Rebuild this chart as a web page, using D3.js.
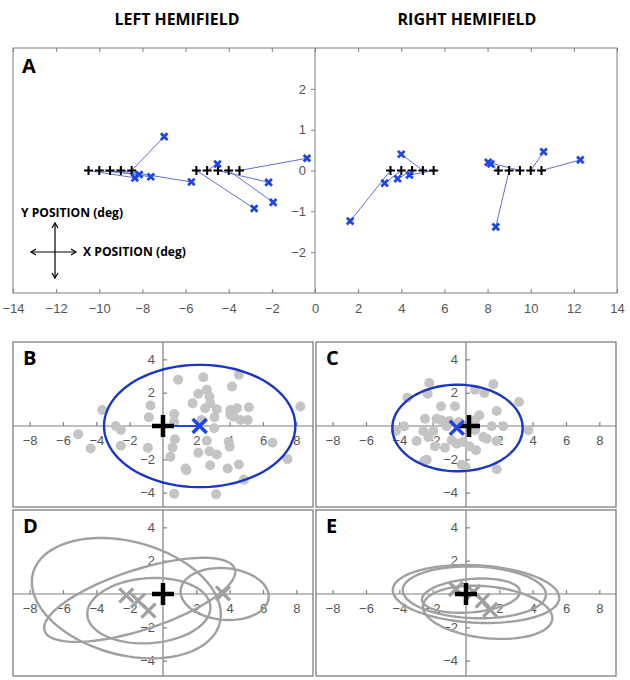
<!DOCTYPE html>
<html>
<head>
<meta charset="utf-8">
<script src="https://cdn.jsdelivr.net/npm/d3@7"></script>
<style>
  body { margin: 0; background: #fff; }
  text { font-family: "Liberation Sans", Arial, sans-serif; }
  .bold { font-family: "Open Sans", sans-serif; font-weight: 700; }
</style>
</head>
<body>
<div id="chart"></div>
<script>
// panel A: targets on the horizontal meridian and the matching responses
const targetsA = [-10.5, -10, -9.5, -9, -8.5, -5.5, -5, -4.5, -4, -3.5,
  3.5, 4, 4.5, 5, 5.5, 8.5, 9, 9.5, 10, 10.5];
const responseAX = [-8.35, -8.15, -7.61, -5.73, -6.99, -2.82, -4.52, -2.15, -1.94, -0.37,
  1.63, 3.23, 3.83, 4.0, 4.38, 8.15, 8.38, 8.03, 10.6, 12.3];
const responseAY = [-0.18, -0.10, -0.155, -0.28, 0.83, -0.93, 0.16, -0.29, -0.78, 0.30,
  -1.24, -0.31, -0.20, 0.40, -0.11, 0.16, -1.38, 0.20, 0.46, 0.26];
const ticksAX = d3.range(-14, 15, 2);
const ticksAY = [-2, -1, 0, 1, 2];

// panel B: single-trial endpoints, left hemifield
const dotsBX = [0.91, 2.42, 4.55, 4.14, 2.12, 2.63, 2.79, 1.78, 2.83, 2.53, 3.23, 3.09, 4.04, 4.44,
  5.15, 4.24, 4.65, 5.09, 4.04, 8.24, -3.64, -0.75, -0.85, 0.67, 0.67, -2.83, -2.53, -5.09,
  -4.34, -2.53, -0.91, 0.57, 0.71, 0.44, 2.12, 2.63, 3.07, 2.79, 3.23, 2.83, 4.0, 3.94,
  3.88, 4.55, 1.35, 1.41, 4.85, 0.67, 3.19, 6.57, 7.47, 2.32];
const dotsBY = [2.77, 2.93, 3.08, 2.37, 1.93, 2.17, 1.77, 1.37, 1.37, 1.07, 1.0, 0.52, 0.96, 1.07,
  1.13, 0.56, 0.36, 0.36, 0.66, 1.17, 0.96, 1.23, 0.52, 0.72, 0.26, 0, -0.24, -0.5,
  -1.35, -1.19, -1.31, -1.29, -0.80, -1.85, -1.61, -0.88, -0.14, -1.51, -1.71, -2.35, -1.25, -0.94,
  -2.55, -2.31, -2.55, -2.65, -3.22, -4.06, -4.1, -1.0, -1.99, 0.36];

// panel C: single-trial endpoints, right hemifield
const dotsCX = [-2.2, -3.52, -2.3, 1.64, 1.1, 0.54, 3.18, -1.5, -0.66, 1.84, 0.8, -2.46, -1.76, -1.0,
  -0.42, 0.54, -3.7, -4.2, 3.74, 2.24, 1.54, -2.56, -1.96, -2.96, -2.26, -1.86, -1.26, -0.86,
  -0.56, -0.2, 0.54, 1.04, 0.6, 1.84, -2.5, -2.36, -0.26, -0.02, 1.84, -1.16, -1.46, 0.2, 1.24];
const dotsCY = [2.58, 1.7, 1.94, 2.5, 1.98, 2.18, 1.44, 1.18, 1.18, 0.9, 0.64, 0.44, 0.44, 0.3,
  0.24, 0.34, -0.02, -0.3, -0.26, -0.02, -0.02, -0.3, -0.3, -0.9, -0.66, -1.22, -1.3, -0.86,
  -1.06, -0.96, -0.26, -0.66, -1.46, -0.9, -2.1, -2.02, -2.32, -2.46, -2.6, -0.02, 0.34, -1.22, -0.76];

// mean endpoints and 95% ellipses (centre x, centre y, semi-axes, tilt in deg)
const meanB = [2.2, 0];
const ellipseB = [2.2, 0, 5.74, 3.67, 0];
const meanC = [-0.55, -0.1];
const ellipseC = [-0.51, -0.12, 3.91, 2.6, 0];

// panels D and E: other subjects
const meansDX = [-2.2, -1.5, -0.87, 3.6];
const meansDY = [-0.08, -0.4, -1.0, 0.04];
const ellipsesD = [
  [-2.2, -0.25, 5.8, 3.4, -15],
  [-1.4, -0.35, 6.0, 1.8, 18],
  [-0.85, -1.0, 3.7, 1.95, 4],
  [3.7, 0.0, 2.65, 1.55, -5]
];
const meansEX = [-0.6, 0.45, 1.0, 1.45];
const meansEY = [0.3, 0.12, -0.4, -0.95];
const ellipsesE = [
  [0.6, 0.0, 5.0, 1.72, -3],
  [0.5, 0.1, 4.3, 1.55, -2],
  [0.3, -0.1, 2.95, 1.0, 5],
  [1.3, -1.1, 3.9, 1.55, -6]
];
const ticksSmall = [-8, -6, -4, -2, 2, 4, 6, 8];
const ticksSmallY = [-4, -2, 2, 4];

const grey = '#7f7f7f', labelGrey = '#555', blue = '#1f45e6', ellBlue = '#1a36c4', softGrey = '#a0a0a0';

const svg = d3.select('#chart').append('svg')
  .attr('width', 630).attr('height', 680);

// stroke-drawn plus and times markers
function plusPath(cx, cy, r) {
  return 'M' + (cx - r) + ',' + cy + 'H' + (cx + r) + 'M' + cx + ',' + (cy - r) + 'V' + (cy + r);
}
function timesPath(cx, cy, r) {
  return 'M' + (cx - r) + ',' + (cy - r) + 'L' + (cx + r) + ',' + (cy + r) +
    'M' + (cx - r) + ',' + (cy + r) + 'L' + (cx + r) + ',' + (cy - r);
}

svg.append('text').attr('class', 'bold').attr('x', 177).attr('y', 25)
  .attr('text-anchor', 'middle').attr('font-size', 16.5)
  .attr('textLength', 125).attr('lengthAdjust', 'spacingAndGlyphs').text('LEFT HEMIFIELD');
svg.append('text').attr('class', 'bold').attr('x', 467).attr('y', 25)
  .attr('text-anchor', 'middle').attr('font-size', 16.5)
  .attr('textLength', 139).attr('lengthAdjust', 'spacingAndGlyphs').text('RIGHT HEMIFIELD');

// ---------- panel A ----------
const xA = d3.scaleLinear().domain([-14, 14]).range([13, 617]);
const yA = d3.scaleLinear().domain([-3, 3]).range([293, 48]);
const gA = svg.append('g');

gA.append('rect').attr('x', xA(-14)).attr('y', yA(3))
  .attr('width', xA(14) - xA(-14)).attr('height', yA(-3) - yA(3))
  .attr('fill', 'none').attr('stroke', grey);

gA.append('g').attr('transform', 'translate(0,' + yA(-3) + ')')
  .call(d3.axisBottom(xA).tickValues(ticksAX).tickSizeInner(-4).tickSizeOuter(0).tickPadding(11))
  .call(g => g.select('.domain').remove());
gA.append('g').attr('transform', 'translate(0,' + yA(3) + ')')
  .call(d3.axisTop(xA).tickValues(ticksAX).tickSizeInner(-4).tickSizeOuter(0).tickFormat(''))
  .call(g => g.select('.domain').remove());
gA.append('g').attr('transform', 'translate(' + xA(0) + ',0)')
  .call(d3.axisLeft(yA).tickValues(ticksAY).tickFormat(d3.format('d'))
    .tickSizeInner(4).tickSizeOuter(0).tickPadding(5))
  .call(g => g.select('.domain').attr('d', 'M0,' + yA(3) + 'V' + yA(-3)));
gA.selectAll('.tick line').attr('stroke', grey);
gA.selectAll('.domain').attr('stroke', grey);
gA.selectAll('.tick text').attr('fill', labelGrey).attr('font-size', 13)
  .attr('font-family', '"Liberation Sans", Arial, sans-serif');

gA.selectAll('line.resp').data(targetsA).join('line').attr('class', 'resp')
  .attr('x1', d => xA(d)).attr('y1', yA(0))
  .attr('x2', (d, i) => xA(responseAX[i])).attr('y2', (d, i) => yA(responseAY[i]))
  .attr('stroke', '#5f6fd6').attr('stroke-width', 1);
gA.selectAll('path.tgt').data(targetsA).join('path').attr('class', 'tgt')
  .attr('d', d => plusPath(xA(d), yA(0), 4.5))
  .attr('stroke', '#000').attr('stroke-width', 2).attr('fill', 'none');
gA.selectAll('path.rsp').data(targetsA).join('path').attr('class', 'rsp')
  .attr('d', (d, i) => timesPath(xA(responseAX[i]), yA(responseAY[i]), 3.3))
  .attr('stroke', blue).attr('stroke-width', 2.8).attr('fill', 'none');

gA.append('text').attr('class', 'bold').attr('x', 22).attr('y', 73)
  .attr('font-size', 20).text('A');

// direction key
const key = gA.append('g').attr('stroke', '#000').attr('stroke-width', 1.2).attr('fill', 'none');
key.append('path').attr('d', 'M31,252H76M55,223V278');
key.append('path').attr('d', 'M36,249L31,252L36,255M71,249L76,252L71,255');
key.append('path').attr('d', 'M52,228L55,223L58,228M52,273L55,278L58,273');
gA.append('text').attr('class', 'bold').attr('x', 21).attr('y', 217)
  .attr('font-size', 12.5).attr('textLength', 102).attr('lengthAdjust', 'spacingAndGlyphs')
  .text('Y POSITION (deg)');
gA.append('text').attr('class', 'bold').attr('x', 83).attr('y', 256)
  .attr('font-size', 12.5).attr('textLength', 103).attr('lengthAdjust', 'spacingAndGlyphs')
  .text('X POSITION (deg)');

// ---------- small panels ----------
function makePanel(id, left, right, top, bottom, yDom, letter) {
  const x = d3.scaleLinear().domain([-9, 9]).range([left, right]);
  const y = d3.scaleLinear().domain(yDom).range([bottom, top]);
  const g = svg.append('g');
  svg.append('clipPath').attr('id', id).append('rect')
    .attr('x', left).attr('y', top).attr('width', right - left).attr('height', bottom - top);
  g.append('rect').attr('x', left).attr('y', top).attr('width', right - left)
    .attr('height', bottom - top).attr('fill', 'none').attr('stroke', grey).attr('stroke-width', 1.3);
  const ax = g.append('g').attr('transform', 'translate(0,' + y(0) + ')')
    .call(d3.axisBottom(x).tickValues(ticksSmall).tickSizeInner(-4).tickSizeOuter(0).tickPadding(10));
  ax.select('.domain').attr('d', 'M' + left + ',0H' + right);
  const ay = g.append('g').attr('transform', 'translate(' + x(0) + ',0)')
    .call(d3.axisLeft(y).tickValues(ticksSmallY).tickSizeInner(-4).tickSizeOuter(0).tickPadding(8));
  ay.select('.domain').attr('d', 'M0,' + top + 'V' + bottom);
  g.selectAll('.domain, .tick line').attr('stroke', grey).attr('stroke-width', 1.2);
  g.selectAll('.tick text').attr('fill', labelGrey).attr('font-size', 13)
    .attr('font-family', '"Liberation Sans", Arial, sans-serif');
  g.append('text').attr('class', 'bold').attr('x', left + 10).attr('y', top + 23)
    .attr('font-size', 20).text(letter);
  const plot = g.append('g').attr('clip-path', 'url(#' + id + ')');
  return {x, y, plot};
}

function ellipseLine(p, e) {
  const t = e[4] * Math.PI / 180;
  const pts = d3.range(0, 361, 4).map(a => {
    const u = a * Math.PI / 180;
    const ex = e[2] * Math.cos(u), ey = e[3] * Math.sin(u);
    return [e[0] + ex * Math.cos(t) - ey * Math.sin(t), e[1] + ex * Math.sin(t) + ey * Math.cos(t)];
  });
  return d3.line().x(d => p.x(d[0])).y(d => p.y(d[1]))(pts);
}

function drawDots(p, xs, ys) {
  p.plot.selectAll('circle').data(xs).join('circle')
    .attr('cx', d => p.x(d)).attr('cy', (d, i) => p.y(ys[i])).attr('r', 5)
    .attr('fill', '#c4c4c4');
}

const pB = makePanel('clipB', 13, 313, 342, 507, [-4.86, 5.04], 'B');
const pC = makePanel('clipC', 316, 616, 342, 507, [-4.86, 5.04], 'C');
const pD = makePanel('clipD', 13, 313, 510, 676, [-4.92, 5.04], 'D');
const pE = makePanel('clipE', 316, 616, 510, 676, [-4.92, 5.04], 'E');

drawDots(pB, dotsBX, dotsBY);
drawDots(pC, dotsCX, dotsCY);

[[pB, ellipseB, meanB], [pC, ellipseC, meanC]].forEach(([p, e, m]) => {
  p.plot.append('path').attr('d', ellipseLine(p, e))
    .attr('fill', 'none').attr('stroke', ellBlue).attr('stroke-width', 2.4);
  p.plot.append('line').attr('x1', p.x(0)).attr('y1', p.y(0))
    .attr('x2', p.x(m[0])).attr('y2', p.y(m[1]))
    .attr('stroke', blue).attr('stroke-width', 2.2);
});
pB.plot.append('path').attr('d', plusPath(pB.x(0), pB.y(0), 11))
  .attr('stroke', '#000').attr('stroke-width', 4.5).attr('fill', 'none');
pB.plot.append('path').attr('d', timesPath(pB.x(meanB[0]), pB.y(meanB[1]), 7))
  .attr('stroke', blue).attr('stroke-width', 3.5).attr('fill', 'none');
pC.plot.append('path').attr('d', plusPath(pC.x(0) + 3, pC.y(0), 11))
  .attr('stroke', '#000').attr('stroke-width', 4.5).attr('fill', 'none');
pC.plot.append('path').attr('d', timesPath(pC.x(meanC[0]), pC.y(meanC[1]), 7))
  .attr('stroke', blue).attr('stroke-width', 3.5).attr('fill', 'none');

[[pD, ellipsesD, meansDX, meansDY], [pE, ellipsesE, meansEX, meansEY]].forEach(([p, es, mx, my]) => {
  p.plot.selectAll('path.ell').data(es).join('path').attr('class', 'ell')
    .attr('d', e => ellipseLine(p, e))
    .attr('fill', 'none').attr('stroke', softGrey).attr('stroke-width', 2.4);
  p.plot.selectAll('path.mean').data(mx).join('path').attr('class', 'mean')
    .attr('d', (d, i) => timesPath(p.x(d), p.y(my[i]), 7))
    .attr('fill', 'none').attr('stroke', softGrey).attr('stroke-width', 3.3);
  p.plot.append('path').attr('d', plusPath(p.x(0), p.y(0), 11))
    .attr('stroke', '#000').attr('stroke-width', 4.5).attr('fill', 'none');
});
</script>
</body>
</html>
